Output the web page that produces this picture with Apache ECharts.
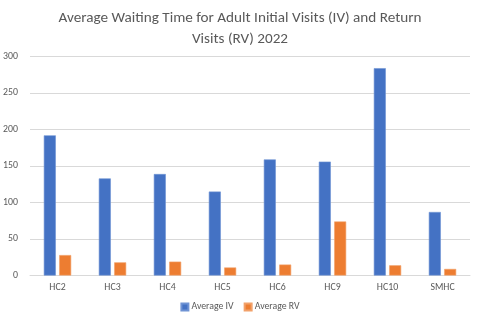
<!DOCTYPE html>
<html>
<head>
<meta charset="utf-8">
<script src="https://cdn.jsdelivr.net/npm/echarts@6/dist/echarts.min.js"></script>
<style>
  html, body { margin: 0; padding: 0; background: #fff; }
  #chart { width: 480px; height: 323px; }
</style>
</head>
<body>
<div id="chart"></div>
<script>
// Health centres and their average waiting times (days), 2022
const centres = ['HC2', 'HC3', 'HC4', 'HC5', 'HC6', 'HC9', 'HC10', 'SMHC'];
const avgInitial = [192, 133, 139, 115, 159, 156, 284, 87];
const avgReturn = [28, 18, 19, 11, 15, 74, 14, 9];
const yTicks = [0, 50, 100, 150, 200, 250, 300];

const font = 'Calibri, Lato, "Liberation Sans", sans-serif';
const textColor = '#595959';

const chart = echarts.init(document.getElementById('chart'), null, { renderer: 'canvas' });
chart.setOption({
  animation: false,
  title: {
    text: 'Average Waiting Time for Adult Initial Visits (IV) and Return\nVisits (RV) 2022',
    left: 'center',
    top: 3,
    textStyle: { fontFamily: font, fontSize: 15.2, fontWeight: 'normal', color: textColor, lineHeight: 21 }
  },
  legend: {
    bottom: 6,
    left: 'center',
    itemWidth: 7,
    itemHeight: 7,
    itemGap: 10,
    icon: 'rect',
    textStyle: { fontFamily: font, fontSize: 9.8, color: textColor, padding: [0, 0, 0, -2] },
    data: ['Average IV', 'Average RV']
  },
  grid: { left: 30, right: 10, top: 56.5, bottom: 47.5, containLabel: false },
  xAxis: {
    type: 'category',
    data: centres,
    axisTick: { show: false },
    axisLine: { lineStyle: { color: '#d9d9d9', width: 1 } },
    axisLabel: { fontFamily: font, fontSize: 9.8, color: textColor, margin: 7 }
  },
  yAxis: {
    type: 'value',
    min: yTicks[0],
    max: yTicks[yTicks.length - 1],
    interval: yTicks[1] - yTicks[0],
    axisLine: { show: false },
    axisTick: { show: false },
    splitLine: { lineStyle: { color: '#d9d9d9', width: 1 } },
    axisLabel: { fontFamily: font, fontSize: 9.8, color: textColor, margin: 12 }
  },
  series: [
    {
      name: 'Average IV',
      type: 'bar',
      data: avgInitial,
      barWidth: 12,
      barGap: '28%',
      itemStyle: { color: '#4472C4', borderColor: '#6f93d4', borderWidth: 0.6 }
    },
    {
      name: 'Average RV',
      type: 'bar',
      data: avgReturn,
      barWidth: 12,
      itemStyle: { color: '#ED7D31', borderColor: '#f2a16a', borderWidth: 0.6 }
    }
  ]
});
</script>
</body>
</html>
